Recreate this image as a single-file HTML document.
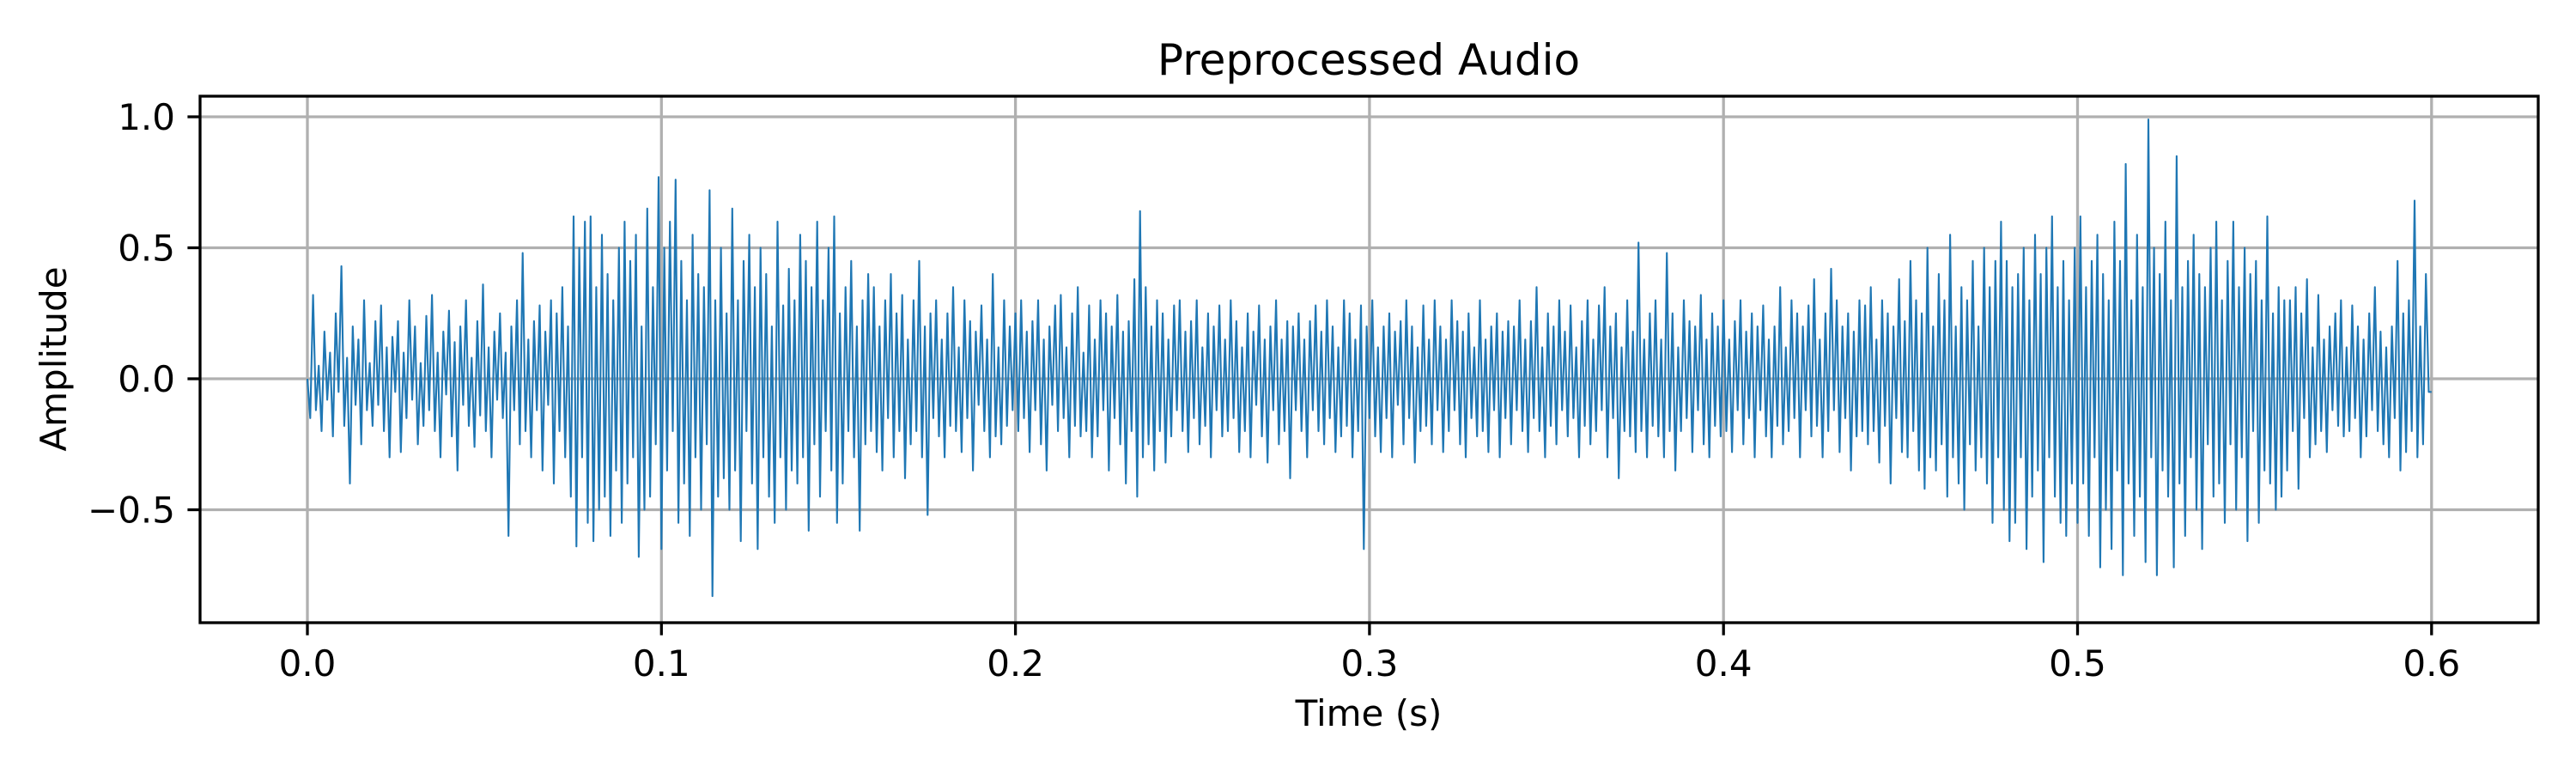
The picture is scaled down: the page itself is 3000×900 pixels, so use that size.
<!DOCTYPE html>
<html><head><meta charset="utf-8"><title>Preprocessed Audio</title>
<style>
html,body{margin:0;padding:0;background:#fff;}
svg{display:block;font-family:"DejaVu Sans","Liberation Sans",sans-serif;}
</style></head>
<body>
<svg id="chart" width="3000" height="900" viewBox="0 0 3000 900" xmlns="http://www.w3.org/2000/svg">
<rect x="0" y="0" width="3000" height="900" fill="#fff"/>
<g id="grid"></g>
<g id="series"></g>
<rect x="233" y="112" width="2723" height="613" fill="none" stroke="#000" stroke-width="3.3"/>
<g id="ticks"></g>
<text x="1594" y="87" font-size="50" text-anchor="middle">Preprocessed Audio</text>
<text x="1594" y="845" font-size="42" text-anchor="middle">Time (s)</text>
<text x="0" y="0" font-size="42" text-anchor="middle" transform="translate(77,418) rotate(-90)">Amplitude</text>
</svg>
<script>
const xTicks = [0.0, 0.1, 0.2, 0.3, 0.4, 0.5, 0.6];
const xTickLabels = ["0.0", "0.1", "0.2", "0.3", "0.4", "0.5", "0.6"];
const yTicks = [-0.5, 0.0, 0.5, 1.0];
const yTickLabels = ["\u22120.5", "0.0", "0.5", "1.0"];
const duration = 0.6;
const amplitude = [
0,-.15,.32,-.12,.05,-.2,.18,-.08,.1,-.22,.25,-.05,.43,-.18,.08,-.4,.2,-.1,.15,-.25,.3,-.12,.06,-.18,.22,
-.1,.28,-.2,.12,-.3,.16,-.05,.22,-.28,.1,-.15,.3,-.08,.2,-.25,.06,-.18,.24,-.12,.32,-.2,.1,-.3,.18,-.06,
.26,-.22,.14,-.35,.2,-.1,.3,-.18,.08,-.26,.22,-.14,.36,-.2,.12,-.3,.18,-.08,.25,-.15,.1,-.6,.2,-.12,.3,
-.25,.48,-.2,.15,-.3,.22,-.12,.28,-.35,.18,-.1,.3,-.4,.25,-.2,.35,-.3,.2,-.45,.62,-.64,.5,-.3,.6,-.55,
.62,-.62,.35,-.5,.55,-.45,.4,-.6,.3,-.35,.5,-.55,.6,-.4,.45,-.3,.55,-.68,.2,-.5,.65,-.45,.35,-.25,.77,
-.65,.5,-.35,.6,-.2,.76,-.55,.45,-.4,.3,-.6,.55,-.3,.4,-.5,.35,-.25,.72,-.83,.3,-.45,.5,-.38,.25,-.5,
.65,-.35,.3,-.62,.45,-.2,.55,-.4,.35,-.65,.5,-.3,.4,-.45,.2,-.55,.6,-.3,.28,-.5,.42,-.35,.3,-.4,.55,
-.3,.45,-.58,.35,-.25,.6,-.45,.3,-.2,.5,-.35,.62,-.55,.25,-.4,.35,-.2,.45,-.3,.2,-.58,.3,-.25,.4,-.2,
.35,-.28,.2,-.35,.3,-.15,.4,-.3,.25,-.2,.32,-.38,.15,-.25,.3,-.2,.45,-.3,.2,-.52,.25,-.15,.3,-.22,.15,
-.3,.25,-.18,.35,-.2,.12,-.28,.3,-.15,.22,-.35,.18,-.1,.28,-.2,.15,-.3,.4,-.22,.12,-.25,.3,-.18,.2,-.12,
.25,-.2,.3,-.15,.18,-.28,.22,-.12,.3,-.25,.15,-.35,.2,-.1,.28,-.2,.32,-.15,.12,-.3,.25,-.18,.35,-.22,.1,
-.2,.28,-.3,.15,-.22,.3,-.12,.25,-.35,.2,-.15,.32,-.25,.18,-.4,.22,-.2,.38,-.45,.64,-.3,.35,-.25,.2,-.35,
.3,-.2,.25,-.32,.15,-.22,.28,-.12,.3,-.2,.18,-.28,.22,-.15,.3,-.25,.12,-.18,.25,-.3,.2,-.12,.28,-.22,.15,
-.2,.3,-.15,.22,-.28,.12,-.2,.25,-.3,.18,-.1,.28,-.22,.15,-.32,.2,-.12,.3,-.25,.15,-.2,.22,-.38,.2,-.12,
.25,-.2,.15,-.3,.22,-.12,.28,-.2,.18,-.25,.3,-.15,.2,-.28,.12,-.22,.3,-.18,.25,-.3,.15,-.2,.28,-.65,.2,
-.15,.3,-.22,.12,-.28,.2,-.15,.25,-.3,.18,-.1,.22,-.25,.3,-.15,.2,-.32,.12,-.2,.28,-.18,.15,-.25,.3,-.12,
.2,-.28,.15,-.2,.3,-.12,.22,-.25,.18,-.3,.25,-.15,.12,-.22,.3,-.2,.15,-.28,.2,-.12,.25,-.3,.18,-.15,.22,
-.25,.2,-.12,.3,-.2,.15,-.28,.22,-.15,.35,-.2,.12,-.3,.25,-.18,.2,-.25,.3,-.12,.18,-.22,.28,-.15,.12,-.3,
.22,-.18,.3,-.25,.15,-.2,.28,-.12,.35,-.3,.2,-.15,.25,-.38,.12,-.2,.3,-.22,.18,-.28,.52,-.2,.15,-.3,.25,
-.18,.3,-.22,.15,-.3,.48,-.2,.25,-.35,.12,-.2,.3,-.15,.22,-.28,.2,-.12,.32,-.25,.15,-.3,.25,-.18,.2,-.22,
.3,-.2,.15,-.28,.22,-.12,.3,-.25,.18,-.15,.25,-.3,.2,-.12,.28,-.22,.15,-.3,.2,-.18,.35,-.25,.12,-.2,.3,
-.15,.25,-.3,.2,-.12,.28,-.22,.38,-.18,.15,-.3,.25,-.2,.42,-.12,.3,-.28,.2,-.15,.25,-.35,.18,-.22,.3,-.2,
.28,-.25,.35,-.2,.15,-.32,.3,-.18,.25,-.4,.2,-.15,.38,-.28,.22,-.3,.45,-.2,.3,-.35,.25,-.42,.5,-.3,.2,
-.35,.4,-.25,.3,-.45,.55,-.3,.2,-.4,.35,-.5,.3,-.25,.45,-.35,.2,-.3,.5,-.4,.35,-.55,.45,-.3,.6,-.5,
.45,-.62,.35,-.55,.4,-.3,.5,-.65,.3,-.45,.55,-.35,.4,-.7,.5,-.3,.62,-.45,.35,-.55,.45,-.6,.3,-.4,.5,
-.55,.62,-.4,.35,-.6,.45,-.3,.55,-.72,.4,-.5,.3,-.65,.6,-.35,.45,-.75,.82,-.4,.3,-.6,.55,-.45,.35,-.7,
.99,-.3,.5,-.75,.4,-.35,.6,-.45,.3,-.72,.85,-.4,.35,-.6,.45,-.3,.55,-.5,.4,-.65,.35,-.25,.5,-.45,.6,
-.4,.3,-.55,.45,-.25,.6,-.5,.35,-.3,.5,-.62,.4,-.2,.45,-.55,.3,-.35,.62,-.4,.25,-.5,.35,-.45,.3,-.35,
.3,-.2,.35,-.42,.25,-.15,.38,-.3,.12,-.25,.32,-.2,.15,-.28,.2,-.12,.25,-.18,.3,-.22,.12,-.2,.28,-.15,.2,
-.3,.15,-.22,.25,-.12,.35,-.2,.18,-.25,.12,-.3,.2,-.15,.45,-.35,.25,-.28,.3,-.2,.68,-.3,.2,-.25,.4,-.05,
-.05
];

const NS = "http://www.w3.org/2000/svg";
const X0 = 358, XPER = 4123;   // pixels per second
const Y0 = 441, YPER = 305;    // pixels per unit amplitude
const AX_L = 233, AX_R = 2956, AX_T = 112, AX_B = 725;
function xScale(t){ return X0 + t * XPER; }
function yScale(v){ return Y0 - v * YPER; }

const grid = document.getElementById('grid');
const ticks = document.getElementById('ticks');
const series = document.getElementById('series');

xTicks.forEach((t, i) => {
  const x = xScale(t);
  const gl = document.createElementNS(NS, 'line');
  gl.setAttribute('x1', x); gl.setAttribute('x2', x);
  gl.setAttribute('y1', AX_T); gl.setAttribute('y2', AX_B);
  gl.setAttribute('stroke', '#b0b0b0'); gl.setAttribute('stroke-width', '3.3');
  
  
  grid.appendChild(gl);
  const tk = document.createElementNS(NS, 'line');
  tk.setAttribute('x1', x); tk.setAttribute('x2', x);
  tk.setAttribute('y1', AX_B); tk.setAttribute('y2', AX_B + 14.6);
  tk.setAttribute('stroke', '#000'); tk.setAttribute('stroke-width', '3.3');
  
  
  ticks.appendChild(tk);
  const lb = document.createElementNS(NS, 'text');
  lb.setAttribute('x', x); lb.setAttribute('y', 787);
  lb.setAttribute('font-size', '42'); lb.setAttribute('text-anchor', 'middle');
  lb.textContent = xTickLabels[i];
  
  
  ticks.appendChild(lb);
});

yTicks.forEach((v, i) => {
  const y = yScale(v);
  const gl = document.createElementNS(NS, 'line');
  gl.setAttribute('x1', AX_L); gl.setAttribute('x2', AX_R);
  gl.setAttribute('y1', y); gl.setAttribute('y2', y);
  gl.setAttribute('stroke', '#b0b0b0'); gl.setAttribute('stroke-width', '3.3');
  
  
  grid.appendChild(gl);
  const tk = document.createElementNS(NS, 'line');
  tk.setAttribute('x1', AX_L - 14.6); tk.setAttribute('x2', AX_L);
  tk.setAttribute('y1', y); tk.setAttribute('y2', y);
  tk.setAttribute('stroke', '#000'); tk.setAttribute('stroke-width', '3.3');
  
  
  ticks.appendChild(tk);
  const lb = document.createElementNS(NS, 'text');
  lb.setAttribute('x', AX_L - 29); lb.setAttribute('y', y + 15);
  lb.setAttribute('font-size', '42'); lb.setAttribute('text-anchor', 'end');
  lb.textContent = yTickLabels[i];
  
  
  ticks.appendChild(lb);
});

const n = amplitude.length;
const pts = amplitude.map((v, i) => {
  const t = duration * i / (n - 1);
  return xScale(t).toFixed(1) + ',' + yScale(v).toFixed(1);
}).join(' ');
const pl = document.createElementNS(NS, 'polyline');
pl.setAttribute('points', pts);
pl.setAttribute('fill', 'none');
pl.setAttribute('stroke', '#1f77b4');
pl.setAttribute('stroke-width', '2.1');
pl.setAttribute('stroke-linejoin', 'round');


series.appendChild(pl);
</script>
</body></html>
